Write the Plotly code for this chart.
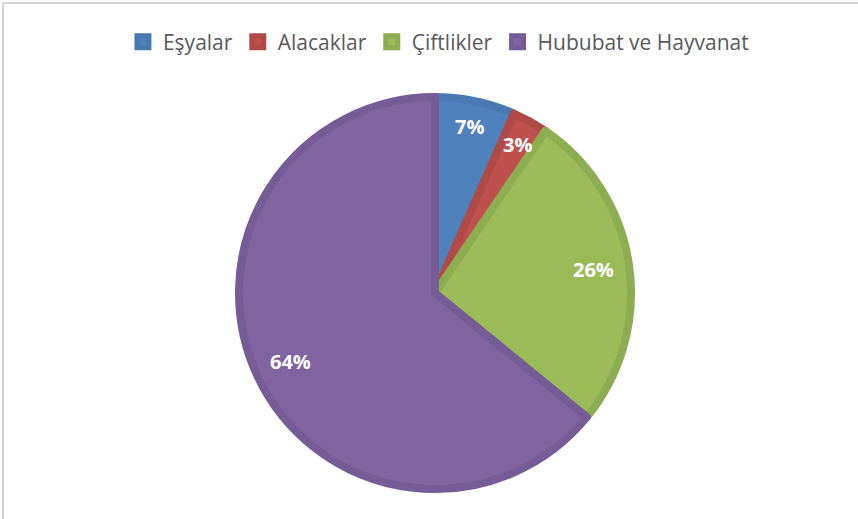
import math
import plotly.graph_objects as go

categories = ["Eşyalar", "Alacaklar", "Çiftlikler", "Hububat ve Hayvanat"]
values = [6.6, 2.9, 26.4, 64.1]
fill_colors = ["#4F81BD", "#C0504D", "#9BBB59", "#8064A2"]
line_colors = ["#4A78B0", "#B04A47", "#8DAD52", "#755C96"]

W, H = 858, 519
cx, cy, r = 435, 293, 196  # pie centre and radius in pixels

fig = go.Figure(go.Pie(
    labels=categories,
    values=values,
    sort=False,
    direction="clockwise",
    rotation=0,
    marker=dict(colors=fill_colors, line=dict(color=line_colors, width=8)),
    textposition="none",
    domain=dict(x=[(cx - r) / W, (cx + r) / W], y=[(H - cy - r) / H, (H - cy + r) / H]),
    hoverinfo="label+percent",
))

# percentage labels placed along each slice's bisector (Excel "best fit" style)
total = sum(values)
annotations = []
cum = 0.0
R = r + 4
for v in values:
    share = v / total
    mid = (cum + share / 2) * 2 * math.pi
    cum += share
    k = 0.85 if share < 0.1 else 0.8
    px = cx + k * R * math.sin(mid)
    py = cy - k * R * math.cos(mid)
    annotations.append(dict(
        x=px / W, y=1 - py / H, xref="paper", yref="paper",
        text=f"{round(share * 100)}%", showarrow=False,
        font=dict(family="Open Sans", size=20, color="white", weight="bold"),
        xanchor="center", yanchor="middle",
    ))

fig.update_layout(
    width=W, height=H,
    margin=dict(l=0, r=0, t=0, b=0),
    paper_bgcolor="white",
    showlegend=True,
    annotations=annotations,
    legend=dict(
        orientation="h", x=0.511, xanchor="center", y=1 - 42 / H, yanchor="middle",
        font=dict(family="Open Sans", size=21, color="#595959"),
        itemwidth=30, traceorder="normal",
    ),
    shapes=[
        dict(type="rect", xref="paper", yref="paper", x0=3 / W, x1=1.2, y0=-0.2, y1=1 - 3 / H,
             line=dict(color="#D4D4D4", width=2), layer="above"),
    ],
)

fig.write_html(
    "out.html",
    config={"displayModeBar": False},
    post_script="document.body.style.margin='0';document.body.style.overflow='hidden';",
)
